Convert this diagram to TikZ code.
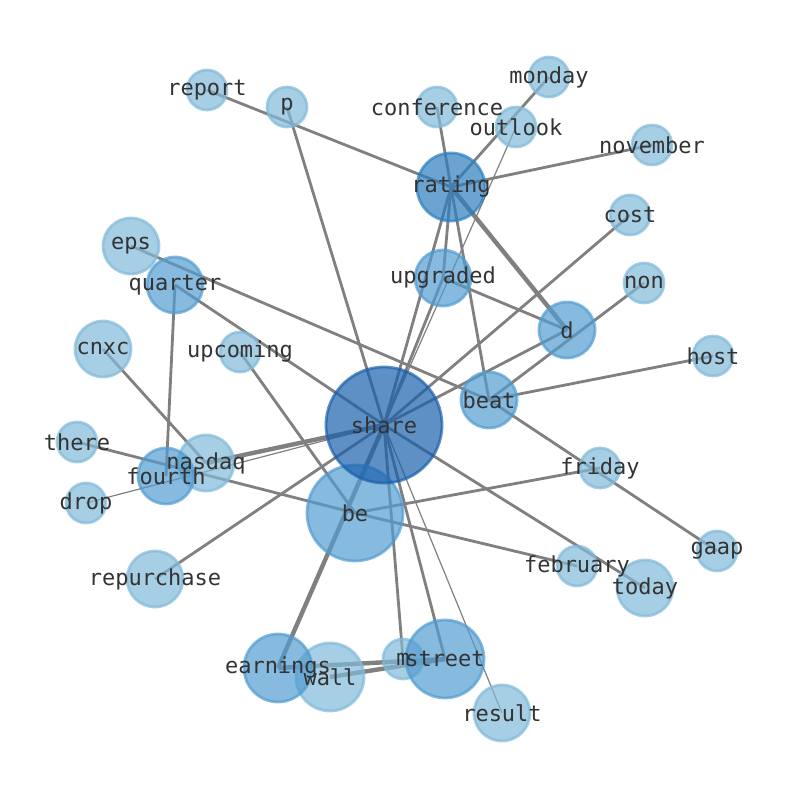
\documentclass[tikz,border=0pt]{standalone}
\usepackage{fontspec}
\setmonofont{DejaVu Sans Mono}
\usepackage{xcolor}
\definecolor{wordlight}{RGB}{128,185,217}
\definecolor{wordmid}{RGB}{82,156,208}
\definecolor{wordrate}{RGB}{45,126,190}
\definecolor{wordtop}{RGB}{25,96,172}
\definecolor{linkgray}{RGB}{128,128,128}
\pgfdeclarelayer{background}
\pgfsetlayers{background,main}

\begin{document}
\begin{tikzpicture}[x=0.5pt, y=-0.5pt,
    every word/.style={circle, inner sep=0pt, line width=1.4pt, draw opacity=0.7, fill opacity=0.7},
    word light/.style={every word, draw=wordlight, fill=wordlight},
    word mid/.style={every word, draw=wordmid, fill=wordmid},
    word rate/.style={every word, draw=wordrate, fill=wordrate},
    word top/.style={every word, draw=wordtop, fill=wordtop},
    word label/.style={font=\fontsize{11}{13}\selectfont\ttfamily, text=black!80, inner sep=0pt},
    link/.style={draw=linkgray, line width=1.4pt},
    link thin/.style={draw=linkgray, line width=0.6pt},
    link thick/.style={draw=linkgray, line width=2.2pt}]
      \useasboundingbox (0,0) rectangle (794,790);

      % Place the word nodes
      \foreach \n/\x/\y/\r/\c in {report/207/90/20/light, p/287/107/20/light,
          conference/437/107/20/light, outlook/516/127/20/light, monday/549/77/20/light,
          november/652/145/20/light, cost/630/215/20/light, non/644/283/20/light,
          host/713/356/20/light, friday/600/468/20/light, gaap/717/551/20/light,
          february/577/566/20/light, today/645/588/28/light, result/502/713/28/light,
          m/403/659/20/light, wall/330/677/34/light, repurchase/155/579/28/light,
          drop/86/503/20/light, there/77/442/20/light, nasdaq/206/463/28/light,
          cnxc/103/349/28/light, upcoming/240/352/20/light, eps/131/246/28/light,
          quarter/175/285/28/mid, fourth/166/476/28/mid, earnings/278/668/34/mid,
          street/445/659/39/mid, be/355/513/48/mid, beat/489/400/28/mid,
          d/567/330/28/mid, upgraded/443/278/28/mid, rating/451/187/34/rate,
          share/384/425/58/top}
        \node [word \c/.try, minimum size=\r pt] (\n) at (\x,\y) {};

      % Draw the connecting lines
      \begin{pgfonlayer}{background}
        \foreach \a/\b in {report/rating, conference/rating, rating/beat, monday/rating,
            november/rating, rating/share, rating/upgraded, upgraded/share, upgraded/d,
            p/share, cost/share, non/beat, d/share, eps/beat, quarter/share,
            quarter/fourth, upcoming/be, cnxc/nasdaq, there/be, be/february,
            repurchase/share, m/share, street/share, share/today, beat/gaap,
            be/friday, beat/host}
          \draw [link] (\a.center) -- (\b.center);
        \foreach \a/\b in {outlook/share, drop/share, result/share}
          \draw [link thin] (\a.center) -- (\b.center);
        \foreach \a/\b in {rating/d, earnings/share, earnings/street, wall/street, nasdaq/share}
          \draw [link thick] (\a.center) -- (\b.center);
      \end{pgfonlayer}

      % Add the labels to the nodes
      \foreach \n in {report, p, conference, outlook, monday, november, cost, non,
          host, friday, gaap, february, today, result, m, wall, repurchase, drop,
          there, nasdaq, cnxc, upcoming, eps, quarter, fourth, earnings, street,
          be, beat, d, upgraded, rating, share}
        \node [word label] at (\n.center) {\n};
\end{tikzpicture}
\end{document}
